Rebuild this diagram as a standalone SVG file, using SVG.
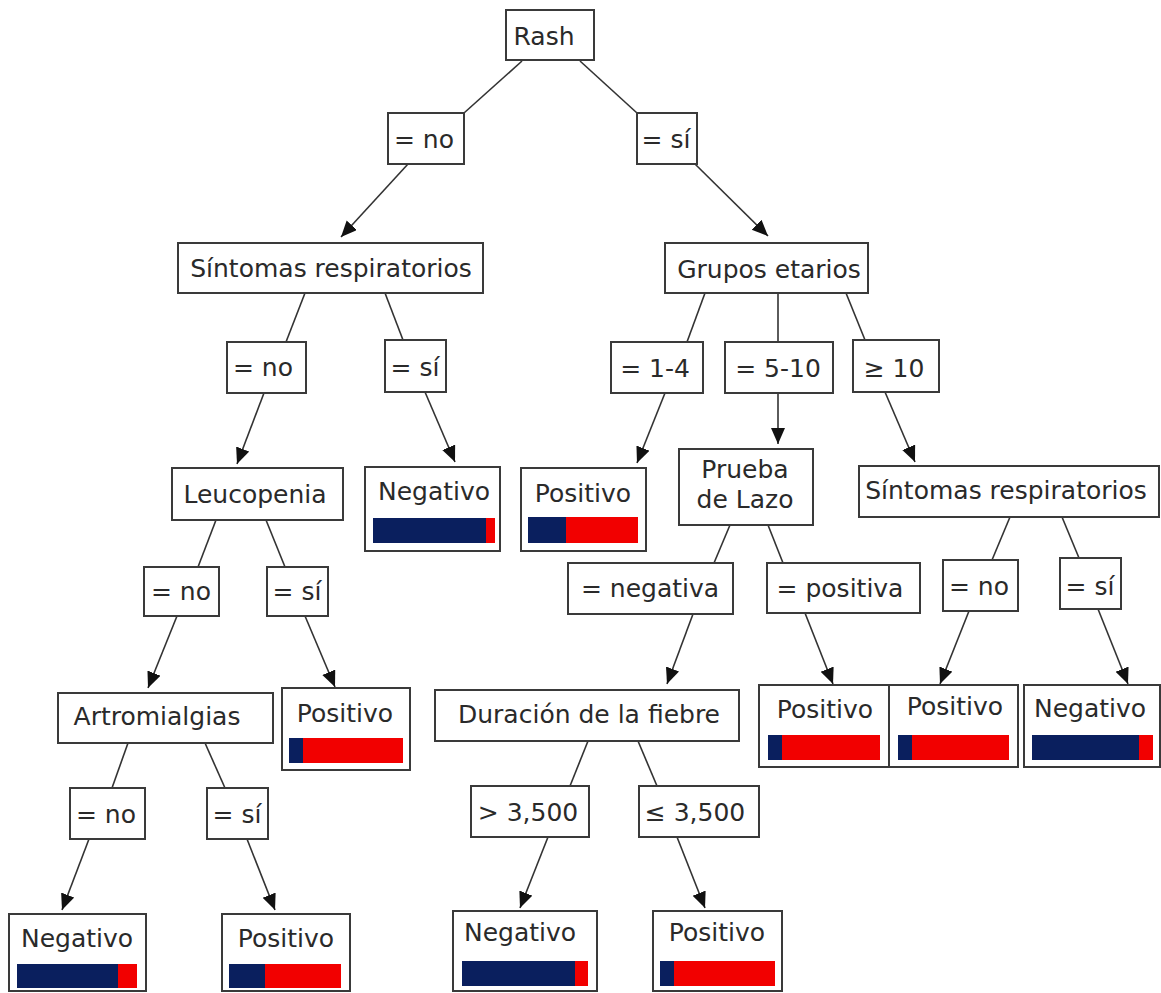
<svg xmlns="http://www.w3.org/2000/svg" width="1161" height="993" viewBox="0 0 1161 993">
<style>
.b{fill:#fff;stroke:#3a3a3a;stroke-width:2}
.t{font-family:"DejaVu Sans",Verdana,sans-serif;font-size:25px;fill:#2a2a2a;text-anchor:middle}
.c line{stroke:#333;stroke-width:1.6}
.blue{fill:#0a1f5e}
.red{fill:#f20000}
</style>
<defs>
<marker id="ah" markerUnits="userSpaceOnUse" markerWidth="17" markerHeight="15" refX="16" refY="7" orient="auto">
<path d="M0,0 L16,7 L0,14 z" fill="#111"/>
</marker>
</defs>
<rect width="1161" height="993" fill="#fff"/>
<g class="c" id="connectors">
<line x1="522" y1="61" x2="464" y2="113"/>
<line x1="580" y1="61" x2="637" y2="113"/>
<line x1="408" y1="164" x2="341" y2="237" marker-end="url(#ah)"/>
<line x1="695" y1="164" x2="768" y2="236" marker-end="url(#ah)"/>
<line x1="305" y1="293" x2="286" y2="342"/>
<line x1="385" y1="293" x2="403" y2="340"/>
<line x1="264" y1="393" x2="237" y2="464" marker-end="url(#ah)"/>
<line x1="425" y1="392" x2="455" y2="462" marker-end="url(#ah)"/>
<line x1="216" y1="520" x2="198" y2="567"/>
<line x1="266" y1="520" x2="285" y2="567"/>
<line x1="177" y1="616" x2="148" y2="688" marker-end="url(#ah)"/>
<line x1="305" y1="616" x2="335" y2="687" marker-end="url(#ah)"/>
<line x1="128" y1="743" x2="112" y2="788"/>
<line x1="205" y1="743" x2="225" y2="788"/>
<line x1="89" y1="839" x2="62" y2="910" marker-end="url(#ah)"/>
<line x1="247" y1="839" x2="275" y2="910" marker-end="url(#ah)"/>
<line x1="705" y1="293" x2="687" y2="342"/>
<line x1="778" y1="293" x2="778" y2="342"/>
<line x1="846" y1="293" x2="865" y2="340"/>
<line x1="665" y1="393" x2="637" y2="463" marker-end="url(#ah)"/>
<line x1="778" y1="393" x2="778" y2="444" marker-end="url(#ah)"/>
<line x1="885" y1="392" x2="915" y2="462" marker-end="url(#ah)"/>
<line x1="730" y1="525" x2="714" y2="563"/>
<line x1="768" y1="525" x2="783" y2="563"/>
<line x1="1010" y1="517" x2="992" y2="560"/>
<line x1="1062" y1="517" x2="1079" y2="558"/>
<line x1="693" y1="614" x2="667" y2="684" marker-end="url(#ah)"/>
<line x1="805" y1="613" x2="833" y2="684" marker-end="url(#ah)"/>
<line x1="969" y1="611" x2="940" y2="684" marker-end="url(#ah)"/>
<line x1="1098" y1="609" x2="1128" y2="684" marker-end="url(#ah)"/>
<line x1="588" y1="741" x2="570" y2="786"/>
<line x1="638" y1="741" x2="657" y2="786"/>
<line x1="548" y1="837" x2="520" y2="908" marker-end="url(#ah)"/>
<line x1="677" y1="837" x2="705" y2="908" marker-end="url(#ah)"/>
</g>
<g id="rash"><rect class="b" x="506" y="10" width="88" height="50"/><text class="t" x="544" y="45">Rash</text></g>
<g id="rash-no"><rect class="b" x="388" y="113" width="76" height="51"/><text class="t" x="424" y="148">= no</text></g>
<g id="rash-si"><rect class="b" x="637" y="113" width="60" height="51"/><text class="t" x="666" y="148">= sí</text></g>
<g id="sint-l"><rect class="b" x="178" y="243" width="305" height="50"/><text class="t" x="331" y="277">Síntomas respiratorios</text></g>
<g id="sint-l-no"><rect class="b" x="227" y="342" width="79" height="51"/><text class="t" x="263" y="376">= no</text></g>
<g id="sint-l-si"><rect class="b" x="385" y="340" width="61" height="52"/><text class="t" x="415" y="376">= sí</text></g>
<g id="leuc"><rect class="b" x="172" y="468" width="171" height="52"/><text class="t" x="255" y="503">Leucopenia</text></g>
<g id="neg-sint"><rect class="b" x="365" y="467" width="135" height="84"/><text class="t" x="434" y="500">Negativo</text><rect class="blue" x="373" y="518" width="113" height="25"/><rect class="red" x="486" y="518" width="9" height="25"/></g>
<g id="leuc-no"><rect class="b" x="144" y="567" width="75" height="49"/><text class="t" x="181" y="600">= no</text></g>
<g id="leuc-si"><rect class="b" x="267" y="567" width="61" height="49"/><text class="t" x="297" y="600">= sí</text></g>
<g id="artro"><rect class="b" x="58" y="693" width="215" height="50"/><text class="t" x="157" y="725">Artromialgias</text></g>
<g id="pos-leuc"><rect class="b" x="282" y="688" width="128" height="82"/><text class="t" x="345" y="722">Positivo</text><rect class="blue" x="289" y="738" width="14" height="25"/><rect class="red" x="303" y="738" width="100" height="25"/></g>
<g id="artro-no"><rect class="b" x="70" y="788" width="75" height="51"/><text class="t" x="106" y="823">= no</text></g>
<g id="artro-si"><rect class="b" x="207" y="788" width="61" height="51"/><text class="t" x="237" y="823">= sí</text></g>
<g id="neg-artro"><rect class="b" x="9" y="914" width="137" height="77"/><text class="t" x="77" y="947">Negativo</text><rect class="blue" x="17" y="964" width="101" height="24"/><rect class="red" x="118" y="964" width="19" height="24"/></g>
<g id="pos-artro"><rect class="b" x="222" y="914" width="128" height="77"/><text class="t" x="286" y="947">Positivo</text><rect class="blue" x="229" y="964" width="36" height="24"/><rect class="red" x="265" y="964" width="76" height="24"/></g>
<g id="grupos"><rect class="b" x="665" y="243" width="203" height="50"/><text class="t" x="769" y="278">Grupos etarios</text></g>
<g id="g14"><rect class="b" x="611" y="342" width="92" height="51"/><text class="t" x="655" y="377">= 1-4</text></g>
<g id="g510"><rect class="b" x="725" y="342" width="108" height="51"/><text class="t" x="778" y="377">= 5-10</text></g>
<g id="g10"><rect class="b" x="853" y="340" width="86" height="52"/><text class="t" x="894" y="377">≥ 10</text></g>
<g id="pos-14"><rect class="b" x="521" y="468" width="125" height="83"/><text class="t" x="583" y="502">Positivo</text><rect class="blue" x="528" y="517" width="38" height="26"/><rect class="red" x="566" y="517" width="72" height="26"/></g>
<g id="prueba"><rect class="b" x="679" y="449" width="134" height="76"/><text class="t" x="745" y="478">Prueba</text><text class="t" x="745" y="508">de Lazo</text></g>
<g id="sint-r"><rect class="b" x="859" y="466" width="300" height="51"/><text class="t" x="1006" y="499">Síntomas respiratorios</text></g>
<g id="p-neg"><rect class="b" x="568" y="563" width="165" height="51"/><text class="t" x="650" y="597">= negativa</text></g>
<g id="p-pos"><rect class="b" x="767" y="563" width="153" height="50"/><text class="t" x="840" y="597">= positiva</text></g>
<g id="sint-r-no"><rect class="b" x="943" y="560" width="75" height="51"/><text class="t" x="979" y="595">= no</text></g>
<g id="sint-r-si"><rect class="b" x="1060" y="558" width="61" height="51"/><text class="t" x="1090" y="595">= sí</text></g>
<g id="pos-lazo"><rect class="b" x="759" y="685" width="130" height="82"/><text class="t" x="825" y="718">Positivo</text><rect class="blue" x="768" y="735" width="14" height="25"/><rect class="red" x="782" y="735" width="98" height="25"/></g>
<g id="pos-sint-r"><rect class="b" x="889" y="685" width="129" height="82"/><text class="t" x="955" y="715">Positivo</text><rect class="blue" x="898" y="735" width="14" height="25"/><rect class="red" x="912" y="735" width="97" height="25"/></g>
<g id="neg-sint-r"><rect class="b" x="1024" y="685" width="136" height="82"/><text class="t" x="1090" y="717">Negativo</text><rect class="blue" x="1032" y="735" width="107" height="25"/><rect class="red" x="1139" y="735" width="14" height="25"/></g>
<g id="duracion"><rect class="b" x="435" y="690" width="304" height="51"/><text class="t" x="589" y="723">Duración de la fiebre</text></g>
<g id="gt"><rect class="b" x="471" y="786" width="118" height="51"/><text class="t" x="528" y="821">&gt; 3,500</text></g>
<g id="le"><rect class="b" x="639" y="786" width="120" height="51"/><text class="t" x="695" y="821">≤ 3,500</text></g>
<g id="neg-dur"><rect class="b" x="453" y="911" width="144" height="80"/><text class="t" x="520" y="941">Negativo</text><rect class="blue" x="462" y="961" width="113" height="25"/><rect class="red" x="575" y="961" width="13" height="25"/></g>
<g id="pos-dur"><rect class="b" x="653" y="911" width="129" height="80"/><text class="t" x="717" y="941">Positivo</text><rect class="blue" x="660" y="961" width="14" height="25"/><rect class="red" x="674" y="961" width="101" height="25"/></g>
</svg>
